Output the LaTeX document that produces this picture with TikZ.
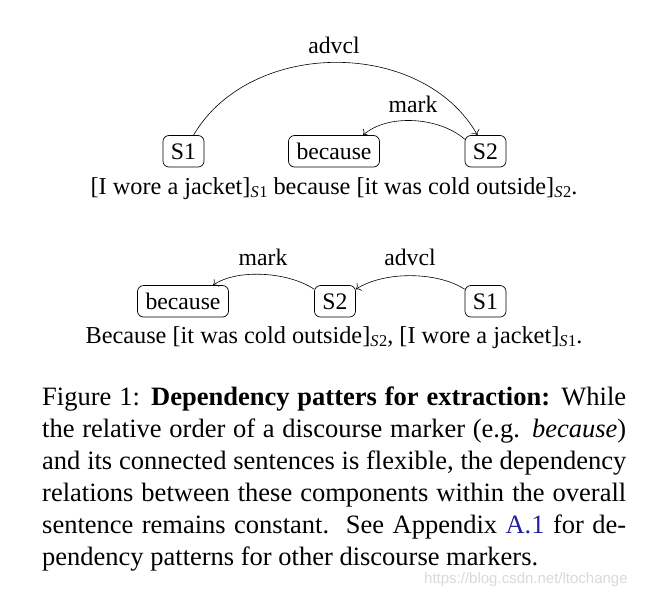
\documentclass[tikz,border=0pt]{standalone}
\usepackage{fontspec}
\setmainfont{Liberation Serif}
\newfontfamily\wmfont{Liberation Sans}
\usetikzlibrary{arrows.meta}
\definecolor{linkblue}{rgb}{0.13,0.13,0.62}
\newcommand\sbs[1]{\raisebox{-3.5pt}{\fontsize{16.5}{16.5}\selectfont\textit{S}\kern0.5pt#1}}
\begin{document}
\begin{tikzpicture}[x=1pt,y=-1pt,
  dep/.style={draw, rounded corners=6pt, line width=0.7pt, inner xsep=8pt, inner ysep=0pt,
    text height=23.5pt, text depth=8pt, anchor=base, font=\fontsize{23.7}{28}\selectfont},
  lbl/.style={font=\fontsize{23.7}{28}\selectfont, inner sep=0pt, anchor=base},
  sent/.style={font=\fontsize{24.3}{28}\selectfont, inner sep=0pt, anchor=base},
  arc/.style={-{To[length=4.5pt,width=9pt]}, line width=0.6pt},
  capline/.style={font=\fontsize{26.5}{32}\selectfont, inner sep=0pt, anchor=base west}]
\useasboundingbox (0,0) rectangle (648,595);
% top diagram
\node[dep] (s1a) at (183.5,159) {S1};
\node[dep] (bca) at (334,159) {because};
\node[dep] (s2a) at (485.5,159) {S2};
\node[lbl] (advcla) at (334,53) {advcl};
\node[lbl] (marka) at (413,112) {mark};
\draw[arc] ([xshift=10pt]s1a.north) .. controls +(57,-97) and +(-55,-97) .. ([xshift=-8pt]s2a.north);
\draw[arc] (s2a.150) .. controls +(-25,-22) and +(25,-22) .. ([xshift=29pt]bca.north);
\node[sent] (senta) at (334,194) {[I wore a jacket]\sbs{1} because [it was cold outside]\sbs{2}.};
% bottom diagram
\node[dep] (bcb) at (183,309) {because};
\node[dep] (s2b) at (335,309) {S2};
\node[dep] (s1b) at (485.5,309) {S1};
\node[lbl] (markb) at (263,265) {mark};
\node[lbl] (advclb) at (410,265) {advcl};
\draw[arc] (s2b.150) .. controls +(-25,-17) and +(25,-17) .. ([xshift=30pt]bcb.north);
\draw[arc] (s1b.150) .. controls +(-28,-18) and +(28,-18) .. (s2b.30);
\node[sent] (sentb) at (334,343) {Because [it was cold outside]\sbs{2}, [I wore a jacket]\sbs{1}.};
% caption
\node[capline] (c1) at (42,405) {\makebox[584pt][s]{Figure 1: \textbf{Dependency patters for extraction:} While}};
\node[capline] (c2) at (42,437) {\makebox[584pt][s]{the relative order of a discourse marker (e.g. \textit{because})}};
\node[capline] (c3) at (42,469) {\makebox[584pt][s]{and its connected sentences is flexible, the dependency}};
\node[capline] (c4) at (42,501) {\makebox[584pt][s]{relations between these components within the overall}};
\node[capline] (c5) at (42,533) {\makebox[584pt][s]{sentence remains constant.\ \ See Appendix {\color{linkblue}A.1} for de-}};
\node[capline] (c6) at (42,565) {pendency patterns for other discourse markers.};
\node[inner sep=0pt, anchor=base west, text=gray!30, font=\wmfont\fontsize{15}{15}\selectfont] (wm) at (424,583) {https://blog.csdn.net/ltochange};
\end{tikzpicture}
\end{document}
